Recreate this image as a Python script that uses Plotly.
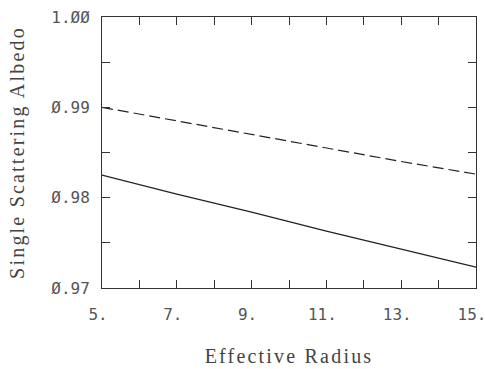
import plotly.graph_objects as go

radius = [5, 7, 9, 11, 13, 15]
albedo_solid = [0.9825, 0.9804, 0.9784, 0.9763, 0.9743, 0.9723]
albedo_dashed = [0.9900, 0.9885, 0.9870, 0.9855, 0.9840, 0.9826]
x_tickvals = [5, 7, 9, 11, 13, 15]
x_ticktext = ["5.", "7.", "9.", "11.", "13.", "15."]
y_tickvals = [0.97, 0.98, 0.99, 1.00]
y_ticktext = ["Ø.97", "Ø.98", "Ø.99", "1.ØØ"]

fig = go.Figure()
fig.add_trace(go.Scatter(x=radius, y=albedo_dashed, mode="lines",
                         line=dict(color="#222", width=1.2, dash="11px,5px")))
fig.add_trace(go.Scatter(x=radius, y=albedo_solid, mode="lines",
                         line=dict(color="#222", width=1.2)))

tickfont = dict(family="DejaVu Sans Mono", size=16, color="#555")
titlefont = dict(family="Liberation Serif", size=20, color="#444")
fig.update_layout(
    width=485, height=369,
    margin=dict(l=102, r=9, t=17, b=81),
    paper_bgcolor="white", plot_bgcolor="white",
    showlegend=False,
    xaxis=dict(range=[5, 15], tickvals=x_tickvals, ticktext=x_ticktext,
               automargin=False,
               ticks="inside", ticklen=8, tickcolor="#333", mirror="ticks",
               showline=True, linecolor="#333", linewidth=1, showgrid=False,
               zeroline=False, tickfont=tickfont, ticklabelstandoff=12,
               ticklabelshift=-4, ticklabeloverflow="allow",
               minor=dict(dtick=1, tick0=5, ticks="inside", ticklen=8, tickcolor="#333", showgrid=False),
               title=dict(text="Effective Radius", standoff=25, font=titlefont)),
    yaxis=dict(range=[0.97, 1.00], tickvals=y_tickvals, ticktext=y_ticktext,
               automargin=False,
               ticks="inside", ticklen=8, tickcolor="#333", mirror="ticks",
               showline=True, linecolor="#333", linewidth=1, showgrid=False,
               zeroline=False, tickfont=tickfont, ticklabelstandoff=8,
               ticklabeloverflow="allow",
               minor=dict(dtick=0.005, tick0=0.97, ticks="inside", ticklen=8, tickcolor="#333", showgrid=False),
               title=dict(text="Single Scattering Albedo", standoff=21, font=titlefont)),
)
post = """
document.body.style.margin='0';
document.body.style.padding='0';
document.body.style.overflow='hidden';
document.querySelectorAll('.xtitle, .ytitle').forEach(function(e){e.style.letterSpacing='2.2px';});
"""
fig.write_html("out.html", post_script=post, config={"displayModeBar": False})
